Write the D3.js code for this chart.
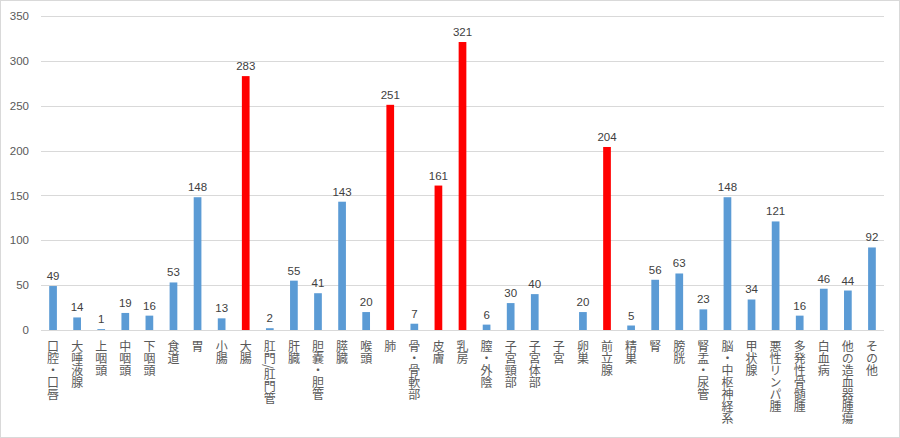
<!DOCTYPE html>
<html>
<head>
<meta charset="utf-8">
<script src="https://cdn.jsdelivr.net/npm/d3@7/dist/d3.min.js"></script>
<style>
  html, body { margin: 0; padding: 0; background: #fff; }
  svg { display: block; }
</style>
</head>
<body>
<div id="chart"></div>
<script>
// Categories (cancer sites) and case counts
var sites = [
    "口腔・口唇", "大唾液腺", "上咽頭", "中咽頭", "下咽頭", "食道", "胃", "小腸", "大腸",
    "肛門/肛門管", "肝臓", "胆嚢・胆管", "膵臓", "喉頭", "肺", "骨・骨軟部", "皮膚", "乳房",
    "膣・外陰", "子宮頸部", "子宮体部", "子宮", "卵巣", "前立腺", "精巣", "腎", "膀胱",
    "腎盂・尿管", "脳・中枢神経系", "甲状腺", "悪性リンパ腫", "多発性骨髄腫", "白血病",
    "他の造血器腫瘍", "その他"
];
var counts = [
    49, 14, 1, 19, 16, 53, 148, 13, 283,
    2, 55, 41, 143, 20, 251, 7, 161, 321,
    6, 30, 40, null, 20, 204, 5, 56, 63,
    23, 148, 34, 121, 16, 46,
    44, 92
];
// Sites highlighted in red
var highlighted = ["大腸", "肺", "皮膚", "乳房", "前立腺"];
var yTicks = [0, 50, 100, 150, 200, 250, 300, 350];

var width = 900, height = 438;
var margin = { top: 16, right: 16, bottom: 108, left: 41 };
var innerW = width - margin.left - margin.right;
var innerH = height - margin.top - margin.bottom;

var svg = d3.select("#chart").append("svg")
    .attr("width", width)
    .attr("height", height);

// chart border
svg.append("rect")
    .attr("x", 0.5).attr("y", 0.5)
    .attr("width", width - 1).attr("height", height - 1)
    .attr("fill", "#fff")
    .attr("stroke", "#d9d9d9");

var g = svg.append("g")
    .attr("transform", "translate(" + margin.left + "," + margin.top + ")");

var x = d3.scaleBand().domain(sites).range([0, innerW]).paddingInner(0.68).paddingOuter(0.34);
var y = d3.scaleLinear().domain([0, 350]).range([innerH, 0]);

// gridlines
g.append("g").selectAll("line")
    .data(yTicks)
    .enter().append("line")
    .attr("x1", 0).attr("x2", innerW)
    .attr("y1", function (d) { return Math.round(y(d)) + 0.5; })
    .attr("y2", function (d) { return Math.round(y(d)) + 0.5; })
    .attr("stroke", "#d9d9d9")
    .attr("stroke-width", 1);

// y axis labels
var yAxis = g.append("g")
    .call(d3.axisLeft(y).tickValues(yTicks).tickSize(0).tickPadding(12));
yAxis.select(".domain").remove();
yAxis.selectAll("text")
    .attr("fill", "#595959")
    .attr("font-family", "Liberation Sans, Arial, sans-serif")
    .attr("font-size", "11.5px");

var data = sites.map(function (s, i) { return { site: s, value: counts[i] }; });
var present = data.filter(function (d) { return d.value !== null; });

// bars
g.append("g").selectAll("rect")
    .data(present)
    .enter().append("rect")
    .attr("x", function (d) { return x(d.site); })
    .attr("y", function (d) { return y(d.value); })
    .attr("width", x.bandwidth())
    .attr("height", function (d) { return y(0) - y(d.value); })
    .attr("fill", function (d) { return highlighted.indexOf(d.site) >= 0 ? "#ff0000" : "#5b9bd5"; });

// value labels
g.append("g").selectAll("text")
    .data(present)
    .enter().append("text")
    .attr("x", function (d) { return x(d.site) + x.bandwidth() / 2; })
    .attr("y", function (d) { return y(d.value) - 6; })
    .attr("text-anchor", "middle")
    .attr("fill", "#404040")
    .attr("font-family", "Liberation Sans, Arial, sans-serif")
    .attr("font-size", "11.5px")
    .text(function (d) { return d.value; });

// vertical category labels
g.append("g").selectAll("text")
    .data(sites)
    .enter().append("text")
    .attr("x", function (d) { return x(d) + x.bandwidth() / 2; })
    .attr("y", innerH + 10)
    .attr("writing-mode", "vertical-rl")
    .attr("fill", "#595959")
    .attr("font-family", "Noto Sans CJK JP, sans-serif")
    .attr("font-size", "12px")
    .text(function (d) { return d; });
</script>
</body>
</html>
